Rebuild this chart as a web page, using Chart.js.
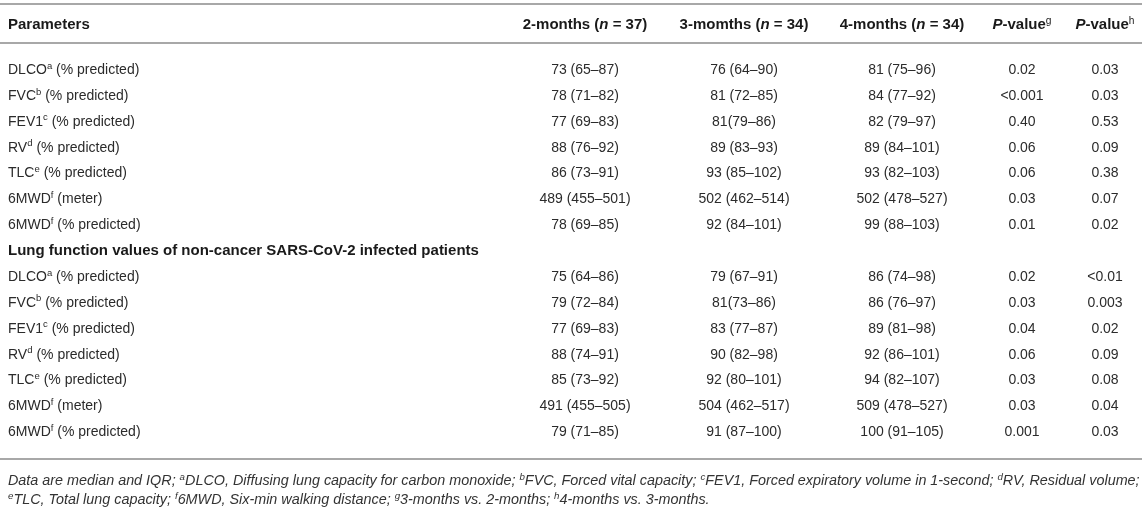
<!DOCTYPE html>
<html lang="en">
<head>
  <meta charset="UTF-8">
  <title>Lung function values</title>
  <script src="https://cdn.jsdelivr.net/npm/chart.js"></script>
  <style>
    body {
      margin: 0;
      background: #fff;
    }
    #table {
      display: block;
    }
  </style>
</head>
<body>
  <canvas id="table" width="1146" height="510"></canvas>

  <script>
    // {x} = superscript, *x* = italic
    const parameters = [
      'DLCO{a} (% predicted)',
      'FVC{b} (% predicted)',
      'FEV1{c} (% predicted)',
      'RV{d} (% predicted)',
      'TLC{e} (% predicted)',
      '6MWD{f} (meter)',
      '6MWD{f} (% predicted)'
    ];
    const groupTitle = 'Lung function values of non-cancer SARS-CoV-2 infected patients';
    const headers = ['Parameters', '2-months (*n* = 37)', '3-momths (*n* = 34)', '4-months (*n* = 34)', '*P*-value{g}', '*P*-value{h}'];

    // first block
    const months2 = ['73 (65–87)', '78 (71–82)', '77 (69–83)', '88 (76–92)', '86 (73–91)', '489 (455–501)', '78 (69–85)'];
    const months3 = ['76 (64–90)', '81 (72–85)', '81(79–86)', '89 (83–93)', '93 (85–102)', '502 (462–514)', '92 (84–101)'];
    const months4 = ['81 (75–96)', '84 (77–92)', '82 (79–97)', '89 (84–101)', '93 (82–103)', '502 (478–527)', '99 (88–103)'];
    const pValueG = ['0.02', '<0.001', '0.40', '0.06', '0.06', '0.03', '0.01'];
    const pValueH = ['0.03', '0.03', '0.53', '0.09', '0.38', '0.07', '0.02'];

    // non-cancer patients
    const ncMonths2 = ['75 (64–86)', '79 (72–84)', '77 (69–83)', '88 (74–91)', '85 (73–92)', '491 (455–505)', '79 (71–85)'];
    const ncMonths3 = ['79 (67–91)', '81(73–86)', '83 (77–87)', '90 (82–98)', '92 (80–101)', '504 (462–517)', '91 (87–100)'];
    const ncMonths4 = ['86 (74–98)', '86 (76–97)', '89 (81–98)', '92 (86–101)', '94 (82–107)', '509 (478–527)', '100 (91–105)'];
    const ncPValueG = ['0.02', '0.03', '0.04', '0.06', '0.03', '0.03', '0.001'];
    const ncPValueH = ['<0.01', '0.003', '0.02', '0.09', '0.08', '0.04', '0.03'];

    const footnotes = [
      'Data are median and IQR; {a}DLCO, Diffusing lung capacity for carbon monoxide; {b}FVC, Forced vital capacity; {c}FEV1, Forced expiratory volume in 1-second; {d}RV, Residual volume;',
      '{e}TLC, Total lung capacity; {f}6MWD, Six-min walking distance; {g}3-months vs. 2-months; {h}4-months vs. 3-months.'
    ];

    // layout (pixels / row units)
    const FONT = '"Liberation Sans", Arial, Helvetica, sans-serif';
    const ROW0 = 69, ROWH = 25.86;
    const COL_X = [8, 585, 744, 902, 1022, 1105];
    const HEADER_ROW = -1.74;
    const RULE_ROWS = [-2.51, -1.0, 15.08];
    const FOOT_ROWS = [15.89, 16.63];
    const FOOT_WIDTH = 1132;

    function parse(str) {
      const parts = [];
      let italic = false, buf = '';
      const flush = () => { if (buf) parts.push({ t: buf, sup: false, it: italic }); buf = ''; };
      for (let i = 0; i < str.length; i++) {
        const ch = str[i];
        if (ch === '*') { flush(); italic = !italic; }
        else if (ch === '{') {
          flush();
          const end = str.indexOf('}', i);
          parts.push({ t: str.slice(i + 1, end), sup: true, it: italic });
          i = end;
        } else buf += ch;
      }
      flush();
      return parts;
    }

    function fontFor(p, size, bold, italic) {
      const it = (p.it || italic) ? 'italic ' : '';
      const b = (bold && !p.sup) ? 'bold ' : '';
      return it + b + (p.sup ? size * 0.68 : size) + 'px ' + FONT;
    }

    function measureRich(ctx, str, opt) {
      const parts = parse(str);
      let w = 0;
      parts.forEach(p => { ctx.font = fontFor(p, opt.size, opt.bold, opt.italic); p.w = ctx.measureText(p.t).width; w += p.w; });
      return { parts, w };
    }

    function drawRich(ctx, str, x, y, opt) {
      const { parts, w } = measureRich(ctx, str, opt);
      let cx = opt.align === 'center' ? x - w / 2 : x;
      ctx.fillStyle = opt.color;
      ctx.textBaseline = 'alphabetic';
      const base = y + opt.size * 0.36;
      parts.forEach(p => {
        ctx.font = fontFor(p, opt.size, opt.bold, opt.italic);
        ctx.fillText(p.t, cx, p.sup ? base - opt.size * 0.38 : base);
        cx += p.w;
      });
    }

    const rowLabels = [...parameters, groupTitle, ...parameters];
    const columns = [
      rowLabels,
      [...months2, '', ...ncMonths2],
      [...months3, '', ...ncMonths3],
      [...months4, '', ...ncMonths4],
      [...pValueG, '', ...ncPValueG],
      [...pValueH, '', ...ncPValueH]
    ];

    const tablePlugin = {
      id: 'tableText',
      afterDatasetsDraw(chart) {
        const ctx = chart.ctx;
        const xs = chart.scales.x, ys = chart.scales.y;
        ctx.save();

        // rules
        ctx.strokeStyle = '#a8a8a8';
        ctx.lineWidth = 2;
        RULE_ROWS.forEach(r => {
          const y = Math.round(ys.getPixelForValue(r));
          ctx.beginPath();
          ctx.moveTo(xs.getPixelForValue(0), y);
          ctx.lineTo(xs.getPixelForValue(1142), y);
          ctx.stroke();
        });

        // header
        headers.forEach((h, c) => {
          drawRich(ctx, h, xs.getPixelForValue(COL_X[c]), ys.getPixelForValue(HEADER_ROW),
            { size: 15, bold: true, color: '#1a1a1a', align: c === 0 ? 'left' : 'center' });
        });

        // cells
        chart.data.datasets.forEach((ds, c) => {
          chart.getDatasetMeta(c).data.forEach((pt, i) => {
            const text = ds.cells[i];
            if (!text) return;
            const isGroup = c === 0 && i === parameters.length;
            drawRich(ctx, text, pt.x, pt.y,
              { size: isGroup ? 15 : 14, bold: isGroup, color: isGroup ? '#1a1a1a' : '#2b2b2b', align: c === 0 ? 'left' : 'center' });
          });
        });

        // footnotes, sized so the first line spans the table width
        const probe = measureRich(ctx, footnotes[0], { size: 10, italic: true }).w;
        const fSize = 10 * FOOT_WIDTH / probe;
        footnotes.forEach((f, i) => {
          drawRich(ctx, f, xs.getPixelForValue(8), ys.getPixelForValue(FOOT_ROWS[i]),
            { size: fSize, italic: true, color: '#333', align: 'left' });
        });
        ctx.restore();
      }
    };

    new Chart(document.getElementById('table'), {
      type: 'scatter',
      data: {
        datasets: columns.map((cells, c) => ({
          label: headers[c],
          cells,
          data: cells.map((_, i) => ({ x: COL_X[c], y: i })),
          pointRadius: 0
        }))
      },
      options: {
        responsive: false,
        animation: false,
        events: [],
        layout: { padding: 0 },
        plugins: { legend: { display: false }, tooltip: { enabled: false } },
        scales: {
          x: { type: 'linear', display: false, min: 0, max: 1146 },
          y: { type: 'linear', display: false, reverse: true, min: -ROW0 / ROWH, max: (510 - ROW0) / ROWH }
        }
      },
      plugins: [tablePlugin]
    });
  </script>
</body>
</html>
